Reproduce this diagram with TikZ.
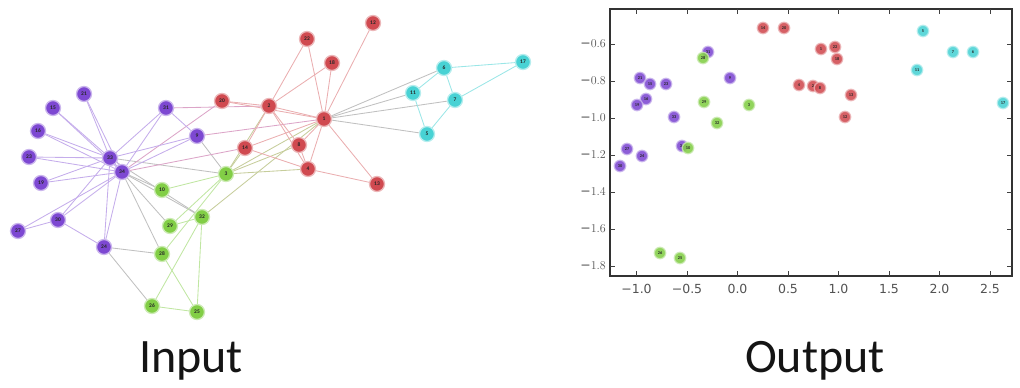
\documentclass[tikz,border=0pt]{standalone}
\usepackage{fontspec}
\setmainfont{Carlito}
\newfontfamily\tickfont{DejaVu Sans}
\pgfdeclarelayer{edges}
\pgfsetlayers{edges,main}
\definecolor{cP}{RGB}{125,72,210}
\definecolor{cR}{RGB}{208,74,80}
\definecolor{cC}{RGB}{72,210,212}
\definecolor{cG}{RGB}{130,206,70}
\definecolor{cRP}{RGB}{220,165,200}
\definecolor{cRG}{RGB}{198,205,155}
\definecolor{cX}{RGB}{192,192,192}
\tikzset{
  gn/.style={circle, fill=#1, draw=#1!40, line width=1.3pt, minimum size=15pt, inner sep=0pt,
    font=\fontsize{5.5}{5.5}\selectfont\bfseries, text=black!85},
  sn/.style={circle, fill=#1, fill opacity=0.88, text opacity=1, draw=#1!40, draw opacity=0.8,
    line width=1.3pt, minimum size=11.5pt, inner sep=0pt,
    font=\fontsize{4.3}{4.3}\selectfont\bfseries, text=black!85},
  eP/.style={draw=cP!45, line width=0.85pt},
  eR/.style={draw=cR!45, line width=0.85pt},
  eC/.style={draw=cC!55, line width=0.85pt},
  eG/.style={draw=cG!50, line width=0.85pt},
  eRP/.style={draw=cRP, line width=0.85pt},
  eRG/.style={draw=cRG, line width=0.85pt},
  eX/.style={draw=cX, line width=0.85pt},
  ticklab/.style={font=\tickfont\fontsize{12.5}{12.5}\selectfont, text=black!68, inner sep=0pt},
  tk/.style={draw=black!75, line width=0.8pt},
  bigtitle/.style={font=\fontsize{48}{48}\selectfont, text=black!92, inner sep=0pt, anchor=base}
}
\begin{document}
\begin{tikzpicture}[x=1pt,y=-1pt]
\useasboundingbox (0,0) rectangle (1020,388);
% ---------- Input graph ----------
% purple
\node[gn=cP] (g33) at (110,158) {33};
\node[gn=cP] (g34) at (122,172) {34};
\node[gn=cP] (g21) at (84,94) {21};
\node[gn=cP] (g15) at (53,108) {15};
\node[gn=cP] (g16) at (38,131) {16};
\node[gn=cP] (g23) at (29,157) {23};
\node[gn=cP] (g19) at (41,183) {19};
\node[gn=cP] (g30) at (58,220) {30};
\node[gn=cP] (g27) at (18,231) {27};
\node[gn=cP] (g24) at (104,247) {24};
\node[gn=cP] (g31) at (166,108) {31};
\node[gn=cP] (g9) at (197,136) {9};
% red
\node[gn=cR] (g20) at (222,101) {20};
\node[gn=cR] (g2) at (269,106) {2};
\node[gn=cR] (g1) at (324,119) {1};
\node[gn=cR] (g14) at (245,148) {14};
\node[gn=cR] (g8) at (299,145) {8};
\node[gn=cR] (g4) at (308,169) {4};
\node[gn=cR] (g13) at (377,184) {13};
\node[gn=cR] (g12) at (373,23) {12};
\node[gn=cR] (g22) at (307,39) {22};
\node[gn=cR] (g18) at (332,63) {18};
% cyan
\node[gn=cC] (g6) at (444,68) {6};
\node[gn=cC] (g17) at (523,62) {17};
\node[gn=cC] (g11) at (413,93) {11};
\node[gn=cC] (g7) at (455,100) {7};
\node[gn=cC] (g5) at (427,134) {5};
% green
\node[gn=cG] (g3) at (226,174) {3};
\node[gn=cG] (g10) at (162,190) {10};
\node[gn=cG] (g32) at (202,217) {32};
\node[gn=cG] (g29) at (170,226) {29};
\node[gn=cG] (g28) at (162,254) {28};
\node[gn=cG] (g26) at (152,306) {26};
\node[gn=cG] (g25) at (197,312) {25};
\begin{pgfonlayer}{edges}
\foreach \a/\b in {1/3,1/32,2/3,3/4,3/8,3/14} \draw[eRG] (g\a) -- (g\b);
\foreach \a/\b in {1/5,1/6,1/7,1/11,3/9,3/33,10/34,24/26,24/28,28/34,29/34,32/33,32/34} \draw[eX] (g\a) -- (g\b);
\foreach \a/\b in {1/9,2/31,14/34,20/34} \draw[eRP] (g\a) -- (g\b);
\foreach \a/\b in {1/2,1/4,1/8,1/12,1/13,1/14,1/18,1/20,1/22,2/4,2/8,2/14,2/18,2/20,2/22,4/8,4/13,4/14} \draw[eR] (g\a) -- (g\b);
\foreach \a/\b in {5/7,5/11,6/7,6/11,6/17,7/17} \draw[eC] (g\a) -- (g\b);
\foreach \a/\b in {3/10,3/28,3/29,25/26,25/28,25/32,26/32,29/32} \draw[eG] (g\a) -- (g\b);
\foreach \a/\b in {9/31,9/33,9/34,15/33,15/34,16/33,16/34,19/33,19/34,21/33,21/34,23/33,23/34,24/30,24/33,24/34,27/30,27/34,30/33,30/34,31/33,31/34,33/34} \draw[eP] (g\a) -- (g\b);
\end{pgfonlayer}
% ---------- Output scatter ----------
\draw[black!80, line width=1.4pt] (610,9) rectangle (1012,276);
\foreach \v/\yy in {-0.6/44,-0.8/81,-1.0/118,-1.2/155,-1.4/192,-1.6/229,-1.8/266}{
  \draw[tk] (610,\yy) -- (615,\yy);
  \draw[tk] (1012,\yy) -- (1007,\yy);
  \node[ticklab, anchor=east] (yt\yy) at (606,\yy) {−\pgfmathprintnumber[fixed,precision=1,fixed zerofill]{\fpeval{-\v}}};
}
\foreach \lab/\xx in {−1.0/636.5,−0.5/687,0.0/737.5,0.5/788,1.0/838.5,1.5/889,2.0/939.5,2.5/990}{
  \draw[tk] (\xx,276) -- (\xx,271);
  \draw[tk] (\xx,9) -- (\xx,14);
  \node[ticklab] (xt\xx) at (\xx,289) {\lab};
}
% red
\node[sn=cR] (s14) at (763,28) {14};
\node[sn=cR] (s20) at (784,28) {20};
\node[sn=cR] (s1) at (821,49) {1};
\node[sn=cR] (s22) at (835,47) {22};
\node[sn=cR] (s18) at (837,59) {18};
\node[sn=cR] (s4) at (799,85) {4};
\node[sn=cR] (s2) at (813,86) {2};
\node[sn=cR] (s8) at (820,88) {8};
\node[sn=cR] (s13) at (851,95) {13};
\node[sn=cR] (s12) at (845,117) {12};
% cyan
\node[sn=cC] (s5) at (923,31) {5};
\node[sn=cC] (s7) at (953,52) {7};
\node[sn=cC] (s6) at (973,52) {6};
\node[sn=cC] (s11) at (917,70) {11};
\node[sn=cC] (s17) at (1003,103) {17};
% purple
\node[sn=cP] (s31) at (708,52) {31};
\node[sn=cP] (s9) at (730,78) {9};
\node[sn=cP] (s21) at (640,78) {21};
\node[sn=cP] (s15) at (650,84) {15};
\node[sn=cP] (s23) at (666,84) {23};
\node[sn=cP] (s16) at (646,99) {16};
\node[sn=cP] (s19) at (637,105) {19};
\node[sn=cP] (s33) at (674,117) {33};
\node[sn=cP] (s34) at (682,146) {34};
\node[sn=cP] (s27) at (627,149) {27};
\node[sn=cP] (s24) at (642,156) {24};
\node[sn=cP] (s30) at (620,166) {30};
% green
\node[sn=cG] (s28) at (703,58) {28};
\node[sn=cG] (s29) at (704,102) {29};
\node[sn=cG] (s3) at (749,105) {3};
\node[sn=cG] (s32) at (717,123) {32};
\node[sn=cG] (s10) at (688,148) {10};
\node[sn=cG] (s26) at (660,253) {26};
\node[sn=cG] (s25) at (680,258) {25};
% ---------- titles ----------
\node[bigtitle] (tin) at (191,372) {Input};
\node[bigtitle] (tout) at (815,372) {Output};
\end{tikzpicture}
\end{document}
